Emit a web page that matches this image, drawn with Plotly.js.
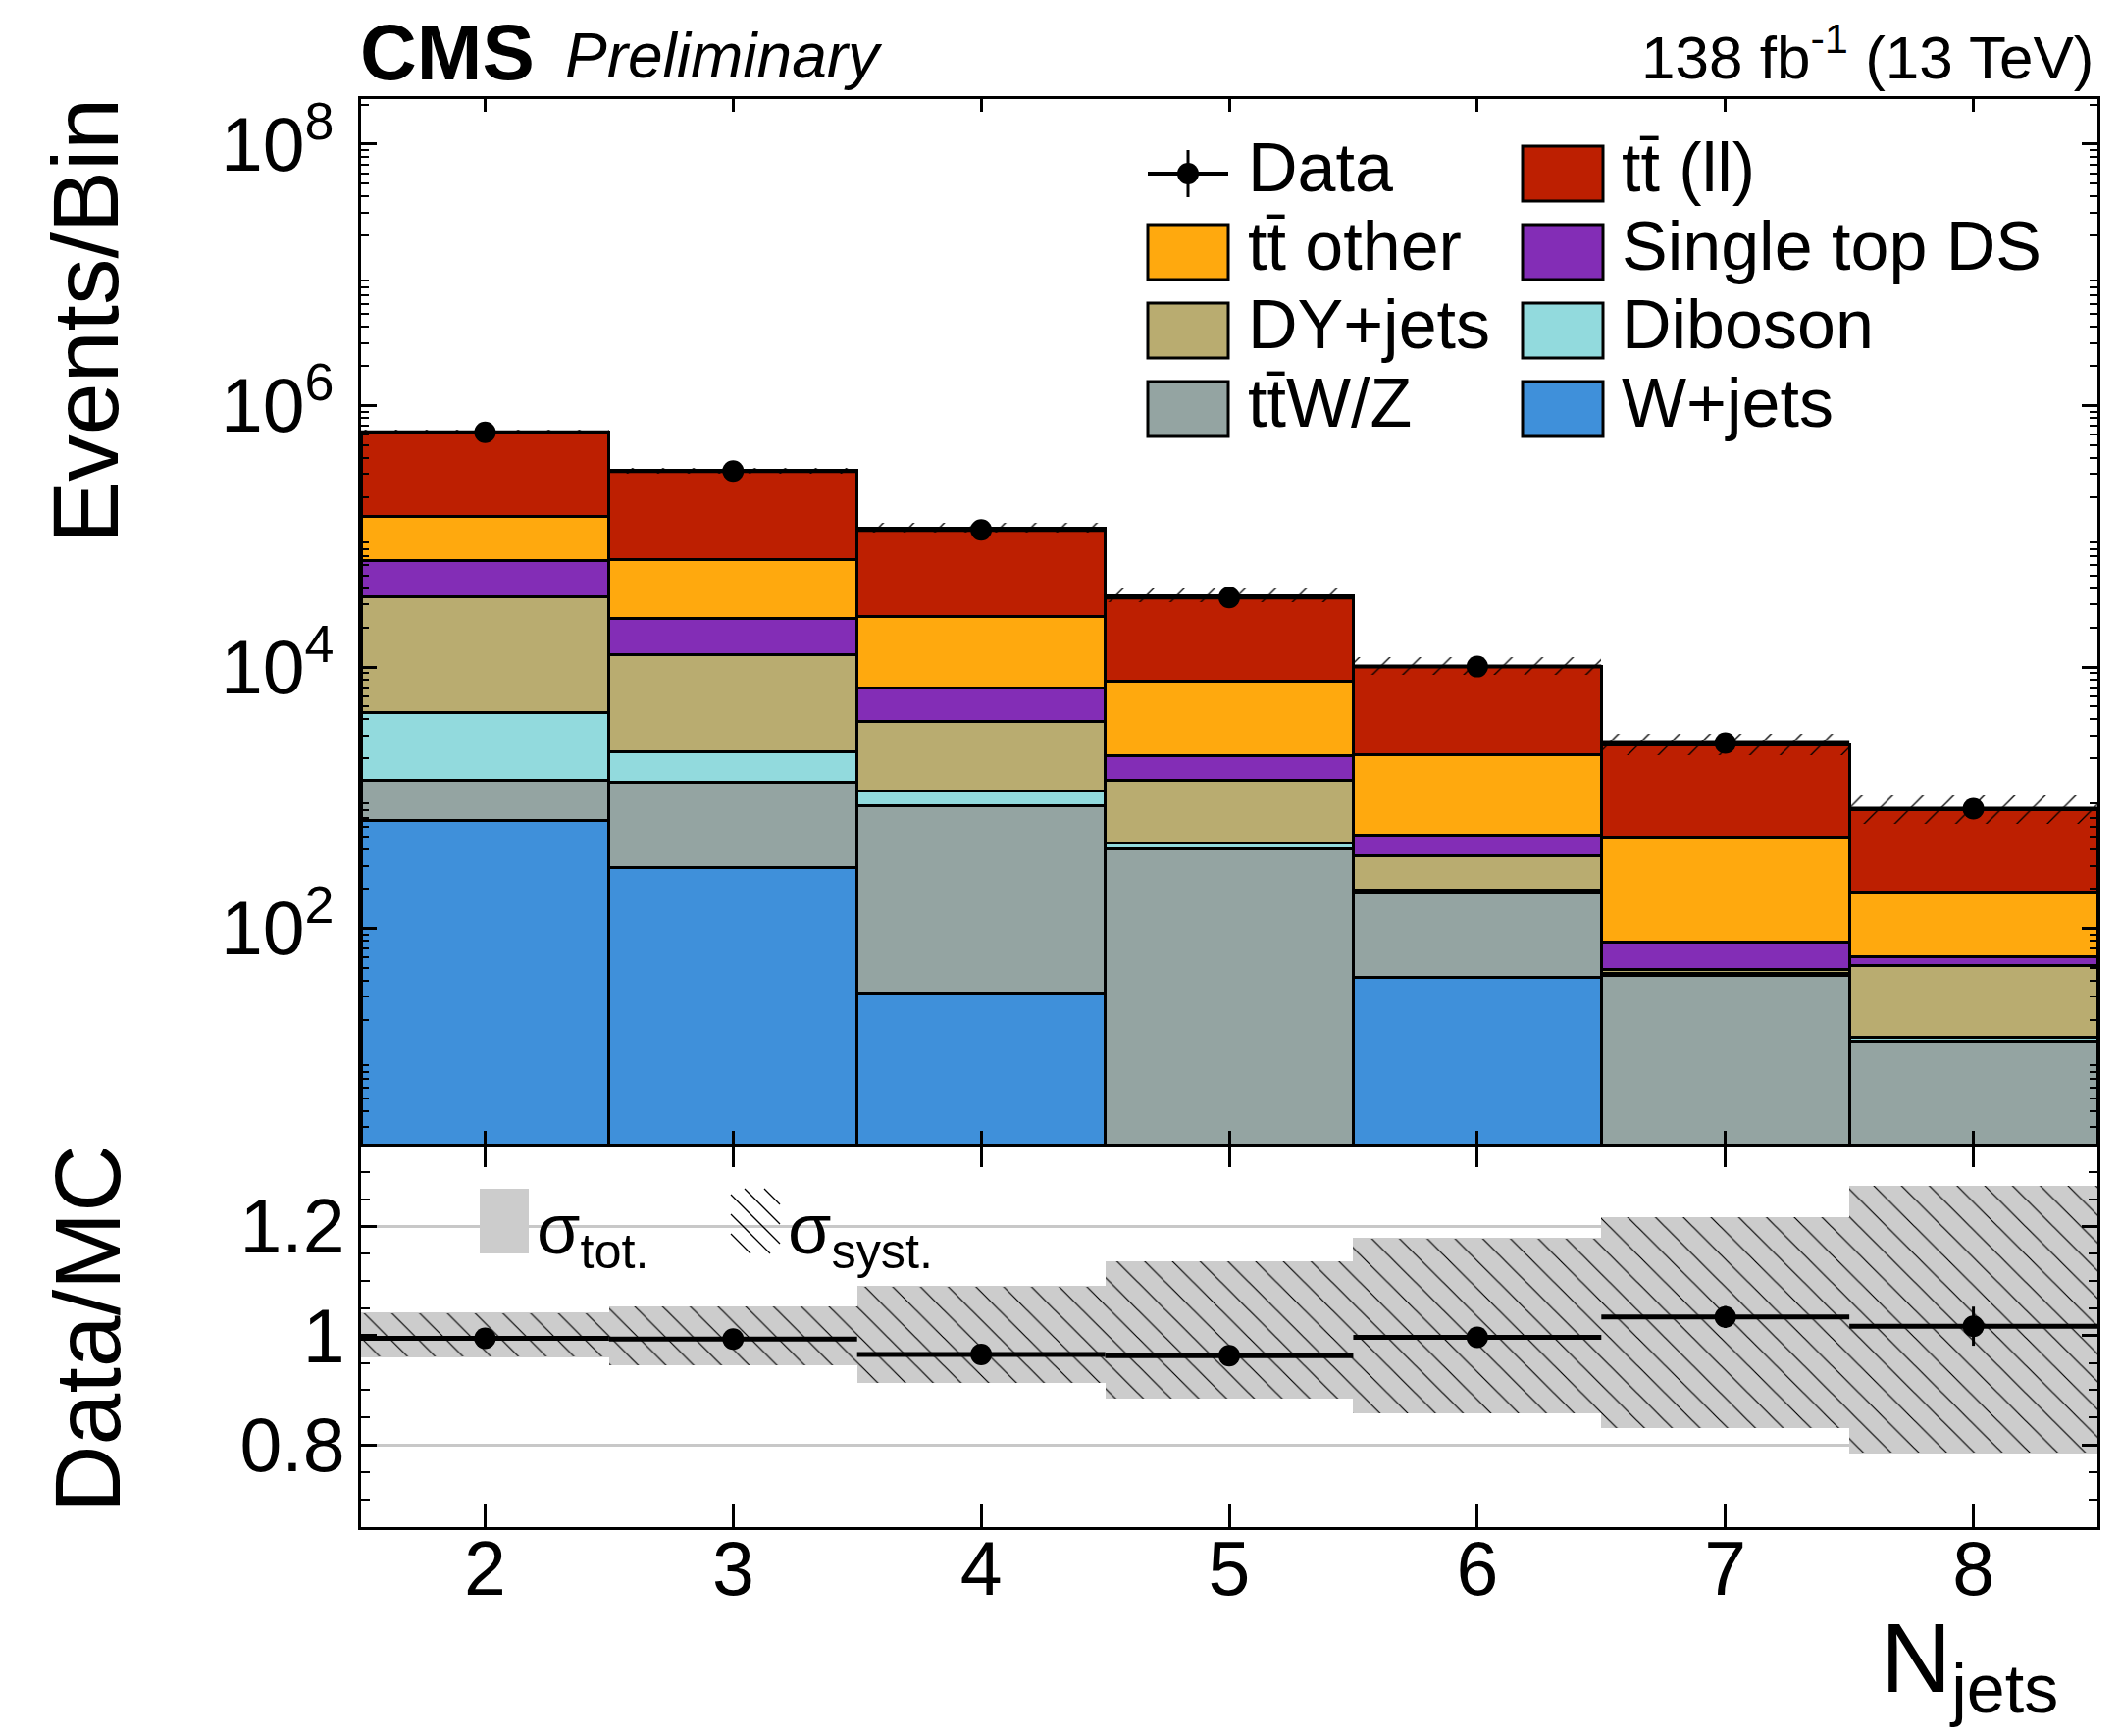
<!DOCTYPE html>
<html><head><meta charset="utf-8">
<script src="https://cdn.plot.ly/plotly-3.0.1.min.js"></script>
<style>html,body{margin:0;padding:0;background:#fff;} #plot{width:2161px;height:1770px;}</style>
</head><body><div id="plot"></div>
<script>
// ---------------- data ----------------
const njets = [2, 3, 4, 5, 6, 7, 8];
const wjets     = [664, 292, 32, 0, 42, 0, 0];
const ttwz      = [696, 1024, 841, 409, 144, 44, 13.6];
const diboson   = [3120, 944, 259, 44, 9, 1.5, 1.2];
const dyjets    = [30020, 10240, 2698, 917, 166, 3, 36.7];
const singletop = [30800, 10900, 3010, 740, 155, 30, 9.5];
const ttother   = [76300, 43100, 17360, 5730, 1620, 422, 130];
const ttll      = [485400, 250500, 91800, 27460, 7964, 2033, 619];
const dataYield = [624000, 315000, 112000, 34000, 10070, 2620, 824];
const dataErr   = [790, 560, 335, 185, 100, 51, 29];
// relative MC uncertainties (up / down)
const totUp     = [0.042, 0.054, 0.091, 0.137, 0.179, 0.218, 0.275];
const totDown   = [0.040, 0.055, 0.087, 0.116, 0.143, 0.170, 0.216];
const systUp    = [0.041, 0.053, 0.090, 0.136, 0.178, 0.217, 0.274];
const systDown  = [0.039, 0.054, 0.086, 0.115, 0.142, 0.169, 0.215];
const procNames  = ["W+jets", "tt\u0304W/Z", "Diboson", "DY+jets", "Single top DS", "tt\u0304 other", "tt\u0304 (ll)"];
const procColors = ["#3f90da", "#94a4a2", "#92dadd", "#b9ac70", "#832db6", "#ffa90e", "#bd1f01"];
const labelPowers = [2, 4, 6, 8];
const oddPowers = [1, 3, 5, 7];
const ratioTickVals = [0.8, 1, 1.2];
const ratioTickText = ["0.8", "1", "1.2"];

// ---------------- derived ----------------
const procs = [wjets, ttwz, diboson, dyjets, singletop, ttother, ttll];
const mcTot = njets.map((_, i) => procs.reduce((s, p) => s + p[i], 0));
const halfW = njets.map(() => 0.5);
const ratio = dataYield.map((d, i) => d / mcTot[i]);
const ratioErr = dataErr.map((e, i) => e / mcTot[i]);

const FONT = "Liberation Sans, Arial, Helvetica, sans-serif";
const traces = [];
procs.forEach((p, k) => {
  traces.push({
    type: 'bar', x: njets, y: p, width: 1, name: procNames[k],
    xaxis: 'x2', yaxis: 'y',
    marker: {color: procColors[k], line: {color: 'black', width: 3}},
    hoverinfo: 'skip'
  });
});
// MC uncertainty band (hatched) in main panel
traces.push({
  type: 'bar', x: njets, width: 1, xaxis: 'x2', yaxis: 'y',
  base: mcTot.map((m, i) => m * (1 - totDown[i])),
  y: mcTot.map((m, i) => m * (totUp[i] + totDown[i])),
  marker: {color: 'rgba(0,0,0,0)', line: {width: 0},
           pattern: {shape: '/', fgcolor: 'black', bgcolor: 'rgba(0,0,0,0)', size: 22, solidity: 0.06}},
  hoverinfo: 'skip'
});
// Data in main panel
traces.push({
  type: 'scatter', mode: 'markers', x: njets, y: dataYield, xaxis: 'x2', yaxis: 'y',
  marker: {color: 'black', size: 22},
  error_x: {type: 'data', array: halfW, color: 'black', thickness: 4, width: 0},
  error_y: {type: 'data', array: dataErr, color: 'black', thickness: 3, width: 0}
});
// Ratio panel bands
traces.push({
  type: 'bar', x: njets, width: 1, xaxis: 'x', yaxis: 'y2',
  base: totDown.map(u => 1 - u), y: totDown.map((u, i) => u + totUp[i]),
  marker: {color: '#cccccc', line: {width: 0}}, hoverinfo: 'skip'
});
traces.push({
  type: 'bar', x: njets, width: 1, xaxis: 'x', yaxis: 'y2',
  base: systDown.map(u => 1 - u), y: systDown.map((u, i) => u + systUp[i]),
  marker: {color: 'rgba(0,0,0,0)', line: {width: 0},
           pattern: {shape: '\\', fgcolor: 'black', bgcolor: 'rgba(0,0,0,0)', size: 20, solidity: 0.06}},
  hoverinfo: 'skip'
});
traces.push({
  type: 'scatter', mode: 'markers', x: njets, y: ratio, xaxis: 'x', yaxis: 'y2',
  marker: {color: 'black', size: 22},
  error_x: {type: 'data', array: halfW, color: 'black', thickness: 5, width: 0},
  error_y: {type: 'data', array: ratioErr, color: 'black', thickness: 3, width: 0}
});

// ---------------- layout helpers ----------------
const L = 368, R = 2138, T = 101, B = 1557;
const PX = px => (px - L) / (R - L);
const PY = py => (B - py) / (B - T);
const splitY = PY(1166);
const logRange = [0.353, 8.345];

const minorLog = [];
for (let p = 0; p <= 8; p++) for (let k = 2; k <= 9; k++) minorLog.push(k * Math.pow(10, p));
const minorRatio = [];
for (let v = 0.65; v <= 1.36; v += 0.05) {
  const r = Math.round(v * 100) / 100;
  if (![0.8, 1, 1.2].includes(r)) minorRatio.push(r);
}

const shapes = [];
const annotations = [];
function ann(text, x, y, size, opts) {
  annotations.push(Object.assign({
    text: text, xref: 'paper', yref: 'paper', x: PX(x), y: PY(y),
    showarrow: false, xanchor: 'left', yanchor: 'middle',
    font: {family: FONT, size: size, color: 'black'}
  }, opts || {}));
}

// Legend (2 columns)
const legendOrder = [
  {col: 0, row: 0, data: true, name: 'Data'},
  {col: 1, row: 0, k: 6}, {col: 0, row: 1, k: 5}, {col: 1, row: 1, k: 4},
  {col: 0, row: 2, k: 3}, {col: 1, row: 2, k: 2}, {col: 0, row: 3, k: 1}, {col: 1, row: 3, k: 0}
];
const boxX = [1170, 1552], textX = [1270, 1651], rowY = [177, 257, 337, 417];
legendOrder.forEach(it => {
  const x0 = boxX[it.col], x1 = x0 + 82, yc = rowY[it.row];
  if (it.data) {
    shapes.push({type: 'line', xref: 'paper', yref: 'paper', x0: PX(x0), x1: PX(x1), y0: PY(yc), y1: PY(yc), line: {color: 'black', width: 4}});
    shapes.push({type: 'line', xref: 'paper', yref: 'paper', x0: PX((x0 + x1) / 2), x1: PX((x0 + x1) / 2), y0: PY(yc - 24), y1: PY(yc + 24), line: {color: 'black', width: 3}});
    const cx = (x0 + x1) / 2;
    shapes.push({type: 'circle', xref: 'paper', yref: 'paper', x0: PX(cx - 11), x1: PX(cx + 11), y0: PY(yc - 11), y1: PY(yc + 11), fillcolor: 'black', line: {color: 'black', width: 0}});
    ann(it.name, textX[it.col], yc - 6, 70);
  } else {
    shapes.push({type: 'rect', xref: 'paper', yref: 'paper', x0: PX(x0), x1: PX(x1), y0: PY(yc + 28), y1: PY(yc - 28),
      fillcolor: procColors[it.k], line: {color: 'black', width: 3}});
    ann(procNames[it.k], textX[it.col], yc - 6, 70);
  }
});

// Ratio legend
shapes.push({type: 'rect', xref: 'paper', yref: 'paper', x0: PX(489), x1: PX(539), y0: PY(1278), y1: PY(1212), fillcolor: '#cccccc', line: {width: 0}});
(function () {
  const bx0 = 745, bx1 = 795, by0 = 1212, by1 = 1278;
  let path = '';
  for (let c = -66; c < 50; c += 20) {
    const s0 = Math.max(0, -c), s1 = Math.min(by1 - by0, (bx1 - bx0) - c);
    if (s1 <= s0) continue;
    path += 'M' + PX(bx0 + c + s0) + ',' + PY(by0 + s0) + 'L' + PX(bx0 + c + s1) + ',' + PY(by0 + s1);
  }
  shapes.push({type: 'path', xref: 'paper', yref: 'paper', path: path, line: {color: 'black', width: 1.3}});
})();
ann('\u03c3<sub>tot.</sub>', 545, 1258, 72);
ann('\u03c3<sub>syst.</sub>', 801, 1258, 72);

// Header texts
ann('<b>CMS</b>', 365, 54, 80);
ann('<i>Preliminary</i>', 574, 57, 64);
ann('138 fb<sup>-1</sup> (13 TeV)', 2136, 54, 62, {xanchor: 'right'});
// Axis titles
ann('Events/Bin', 87, 327, 95, {xanchor: 'center', textangle: -90});
ann('Data/MC', 89, 1355, 95, {xanchor: 'center', textangle: -90});
ann('N<sub>jets</sub>', 2100, 1697, 100, {xanchor: 'right'});

const axLine = {showline: true, linewidth: 3, linecolor: 'black', mirror: 'ticks', zeroline: false, tickcolor: 'black'};
const layout = {
  width: 2161, height: 1770,
  margin: {l: L, r: 2161 - R, t: T, b: 1770 - B},
  paper_bgcolor: 'white', plot_bgcolor: 'white',
  showlegend: false, barmode: 'stack', bargap: 0,
  font: {family: FONT, size: 77, color: 'black'},
  xaxis: Object.assign({domain: [0, 1], anchor: 'y2', range: [1.5, 8.5], tickmode: 'array', tickvals: njets,
    ticks: 'inside', ticklen: 24, tickwidth: 3, showgrid: false, tickfont: {family: FONT, size: 77}, ticklabelstandoff: -26}, axLine),
  xaxis2: Object.assign({domain: [0, 1], anchor: 'y', matches: 'x', range: [1.5, 8.5], tickmode: 'array', tickvals: njets,
    ticks: 'inside', ticklen: 13, tickwidth: 3, showticklabels: false, showgrid: false}, axLine),
  yaxis: Object.assign({domain: [splitY, 1], anchor: 'x2', type: 'log', range: logRange,
    tickmode: 'array', tickvals: labelPowers.map(p => Math.pow(10, p)),
    ticktext: labelPowers.map(p => '10<sup>' + p + '</sup>'), ticks: 'inside', ticklen: 16, tickwidth: 3,
    tickfont: {family: FONT, size: 77}, ticklabelstandoff: 9, showgrid: false,
    minor: {tickmode: 'array', tickvals: minorLog, ticks: 'inside', ticklen: 8, tickwidth: 2, tickcolor: 'black', showgrid: false}}, axLine),
  yaxis3: {domain: [splitY, 1], anchor: 'x2', overlaying: 'y', type: 'log', range: logRange,
    tickmode: 'array', tickvals: oddPowers.map(p => Math.pow(10, p)), showticklabels: false,
    ticks: 'inside', ticklen: 16, tickwidth: 3, tickcolor: 'black', mirror: 'ticks', showline: false,
    showgrid: false, zeroline: false},
  yaxis2: Object.assign({domain: [0, splitY], anchor: 'x', range: [0.649, 1.352],
    tickmode: 'array', tickvals: ratioTickVals, ticktext: ratioTickText, ticks: 'inside', ticklen: 16, tickwidth: 3,
    tickfont: {family: FONT, size: 77}, ticklabelstandoff: -2,
    showgrid: true, gridcolor: '#c8c8c8', gridwidth: 3,
    minor: {tickmode: 'array', tickvals: minorRatio, ticks: 'inside', ticklen: 9, tickwidth: 2, tickcolor: 'black', showgrid: false}}, axLine),
  shapes: shapes, annotations: annotations
};

Plotly.newPlot('plot', traces, layout, {staticPlot: true, displayModeBar: false});
</script>
</body></html>
